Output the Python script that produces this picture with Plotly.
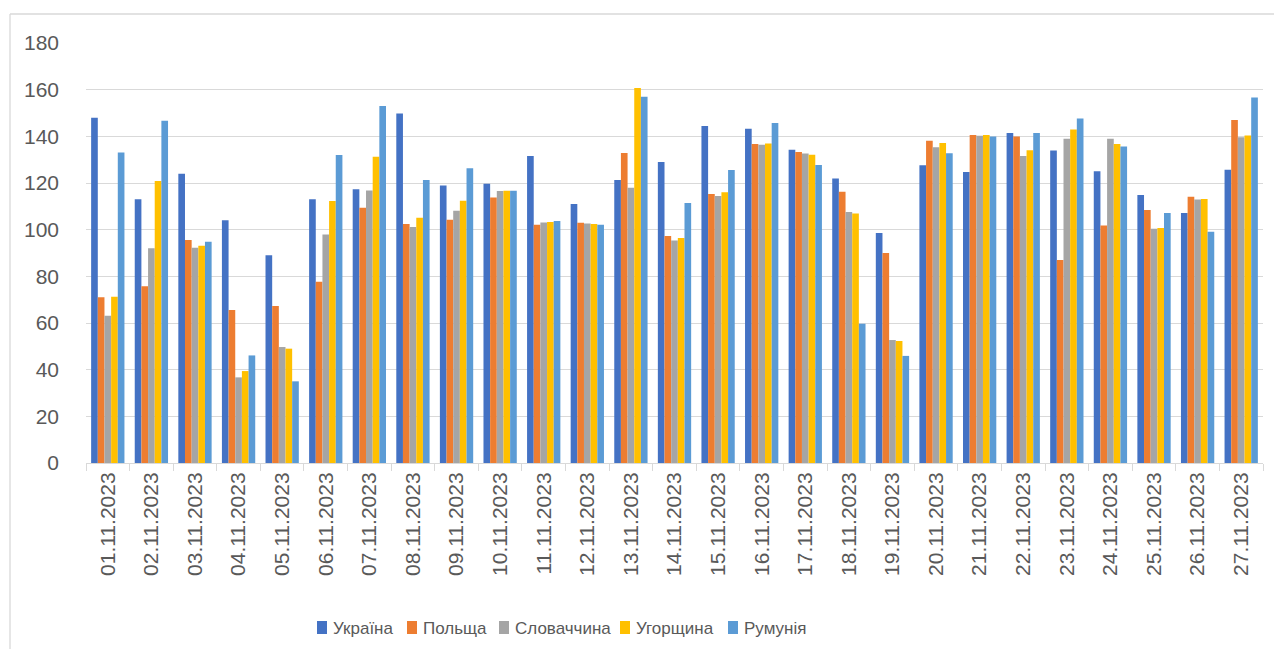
import plotly.graph_objects as go

dates = [f"{d:02d}.11.2023" for d in range(1, 28)]

ukraine = [148, 113, 124, 104, 89, 113, 117.3, 149.8, 118.9, 119.7, 131.6, 111, 121.3, 129,
           144.4, 143.2, 134.3, 121.9, 98.6, 127.6, 124.7, 141.4, 133.9, 125, 114.9, 107.1, 125.7]
poland = [71, 75.7, 95.6, 65.6, 67.3, 77.7, 109.4, 102.4, 104.3, 113.8, 102.1, 103, 132.9, 97.3,
          115.3, 136.7, 133.3, 116.3, 90, 138.1, 140.6, 139.9, 87, 101.8, 108.4, 114.1, 147]
slovakia = [63.1, 92, 92.3, 36.7, 49.7, 97.9, 116.8, 101.1, 108.1, 116.6, 103.1, 102.6, 118, 95.4,
            114.4, 136.4, 132.6, 107.6, 52.7, 135.3, 140.3, 131.6, 139, 139, 100.4, 112.9, 139.6]
hungary = [71.2, 120.9, 93.1, 39.4, 49, 112.3, 131.3, 105.1, 112.4, 116.7, 103.3, 102.4, 160.7, 96.4,
           116, 136.9, 132.1, 106.9, 52.3, 137.1, 140.6, 134, 142.9, 136.7, 100.7, 113.1, 140.4]
romania = [133.1, 146.7, 94.8, 46.1, 35, 132, 153, 121.3, 126.3, 116.7, 103.7, 102.1, 157, 111.4,
           125.6, 145.7, 127.7, 59.7, 45.9, 132.7, 139.9, 141.4, 147.6, 135.6, 107.1, 99.1, 156.6]

series_names = ["Україна", "Польща", "Словаччина", "Угорщина", "Румунія"]
series_values = [ukraine, poland, slovakia, hungary, romania]
colors = ["#4472C4", "#ED7D31", "#A5A5A5", "#FFC000", "#5B9BD5"]

fig = go.Figure()
for name, vals, col in zip(series_names, series_values, colors):
    fig.add_trace(go.Bar(x=dates, y=vals, name=name, showlegend=False,
                         marker=dict(color=col, line=dict(width=0))))

font_family = "Liberation Sans, Arial, sans-serif"
# page body has an 8px margin; figure placed at (8,8)
OFF = 8
W, H = 1282 - 2 * OFF, 657 - 2 * OFF
ml, mt = 86 - OFF, 43 - OFF
mr = W - (1263 - OFF)
mb = H - (463 - OFF)
pw, ph = W - ml - mr, H - mt - mb


def px_x(p):
    return (p - OFF - ml) / pw


def px_y(p):
    return (H - mb - (p - OFF)) / ph


fig.update_layout(
    width=W, height=H,
    margin=dict(l=ml, r=mr, t=mt, b=mb, pad=0),
    paper_bgcolor="white", plot_bgcolor="white",
    barmode="group", bargap=0.236, bargroupgap=0,
    font=dict(family=font_family, color="#595959", size=21),
    showlegend=False,
    xaxis=dict(type="category", tickangle=-90, showline=True, linecolor="#D9D9D9", linewidth=1,
               ticks="outside", tickson="boundaries", ticklen=7, tickcolor="#D9D9D9",
               showgrid=False, automargin=False, tickfont=dict(size=21, color="#595959")),
    yaxis=dict(range=[0, 180], dtick=20, showgrid=True, gridcolor="#D9D9D9", gridwidth=1.3,
               zeroline=False, showline=False, ticks="", ticklabelstandoff=26, automargin=False,
               tickfont=dict(size=21, color="#595959")),
)

# outer chart border (left and top edges visible)
fig.add_shape(type="line", xref="paper", yref="paper", x0=px_x(10), x1=px_x(1290),
              y0=px_y(14), y1=px_y(14), line=dict(color="#D9D9D9", width=1.3))
fig.add_shape(type="line", xref="paper", yref="paper", x0=px_x(10), x1=px_x(10),
              y0=px_y(14), y1=px_y(670), line=dict(color="#D9D9D9", width=1.3))

# legend drawn manually to match spacing
legend_x = [317, 407, 499, 620, 728]
for name, col, lx in zip(series_names, colors, legend_x):
    fig.add_shape(type="rect", xref="paper", yref="paper",
                  x0=px_x(lx), x1=px_x(lx + 10), y0=px_y(634), y1=px_y(621),
                  fillcolor=col, line=dict(width=0))
    fig.add_annotation(xref="paper", yref="paper", x=px_x(lx + 14), y=px_y(628),
                       text=name, showarrow=False, xanchor="left", yanchor="middle",
                       font=dict(size=17, color="#595959", family=font_family))

fig.write_html("out.html")
